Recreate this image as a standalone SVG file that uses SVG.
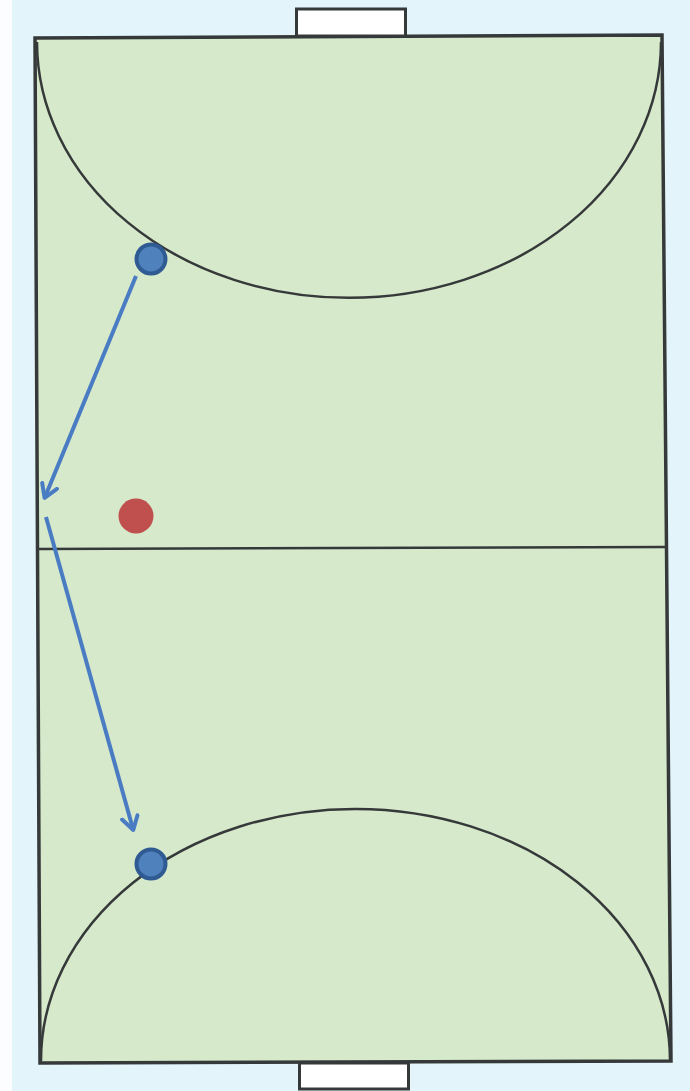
<svg xmlns="http://www.w3.org/2000/svg" width="690" height="1091" viewBox="0 0 690 1091">
<defs>
<style>
.line{fill:none;stroke:#35393a;stroke-width:2.5}
.goal{fill:#ffffff;stroke:#35393a;stroke-width:3}
.player{fill:#4f81bd;stroke:#2f5a92;stroke-width:4}
.move{fill:none;stroke:#4a7cc4;stroke-width:4;stroke-linecap:butt}
</style>
<marker id="chev" viewBox="0 0 20 20" refX="14" refY="10" markerWidth="20" markerHeight="20" markerUnits="userSpaceOnUse" orient="auto">
<path d="M2,2 L15,10 L2,18" fill="none" stroke="#4a7cc4" stroke-width="4" stroke-linecap="round" stroke-linejoin="round"/>
</marker>
</defs>
<rect x="0" y="0" width="690" height="1091" fill="#e3f5fa"/>
<rect x="0" y="0" width="12" height="1091" fill="#fbfdfe"/>
<g id="court">
<polygon points="35,38 662,35 671,1061 40,1063" fill="#d6e9ca" stroke="#35393a" stroke-width="3.5"/>
<path class="line" d="M37,42 A300,246 0 0 0 661,42"/>
<path class="line" d="M41,1061 A300,240 0 0 1 670,1060"/>
<line class="line" x1="38" y1="549" x2="666" y2="547"/>
</g>
<g id="goal-top"><rect class="goal" x="296.5" y="9" width="109" height="27"/></g>
<g id="goal-bottom"><rect class="goal" x="299.5" y="1063" width="109" height="26"/></g>
<g id="connectors">
<line class="move" x1="136" y1="276" x2="45" y2="497" marker-end="url(#chev)"/>
<line class="move" x1="46" y1="517" x2="133" y2="829" marker-end="url(#chev)"/>
</g>
<g id="player-1"><circle class="player" cx="151" cy="259" r="14.5"/></g>
<g id="player-2"><circle class="player" cx="151" cy="864" r="14.5"/></g>
<g id="ball"><circle cx="136" cy="516" r="17.5" fill="#c0504d"/></g>
</svg>
